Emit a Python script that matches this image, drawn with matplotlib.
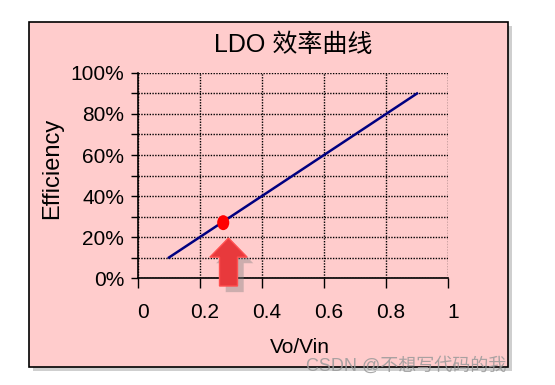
import matplotlib.pyplot as plt
import matplotlib.patches as patches
from matplotlib.transforms import ScaledTranslation
from matplotlib.ticker import PercentFormatter

plt.rcParams['font.family'] = ['Liberation Sans', 'Noto Sans CJK SC', 'DejaVu Sans']

# data
vo_vin = [0.1, 0.2, 0.3, 0.4, 0.5, 0.6, 0.7, 0.8, 0.9]
efficiency = [0.1, 0.2, 0.3, 0.4, 0.5, 0.6, 0.7, 0.8, 0.9]
point_x = 0.275
point_y = 0.27
x_ticks = [0, 0.2, 0.4, 0.6, 0.8, 1]
x_tick_labels = ['0', '0.2', '0.4', '0.6', '0.8', '1']

fig = plt.figure(figsize=(5.55, 3.85), dpi=100)
fig.patch.set_facecolor('white')

# pink chart area with shadow
shadow = patches.Rectangle((0.0523 + 0.0065, 0.0468 - 0.0095), 0.863, 0.896,
                           transform=fig.transFigure, facecolor='#b0b0b0',
                           edgecolor='none', alpha=0.6, zorder=-2)
box = patches.Rectangle((0.0523, 0.0468), 0.863, 0.896, transform=fig.transFigure,
                        facecolor='#ffcccc', edgecolor='black', linewidth=1.2, zorder=-1)
fig.patches.extend([shadow, box])

ax = fig.add_axes([0.2486, 0.2779, 0.5586, 0.5325])
ax.set_facecolor('none')
ax.set_xlim(0, 1)
ax.set_ylim(0, 1)

ax.plot(vo_vin, efficiency, color='#000080', linewidth=1.8, zorder=3)

# highlighted point
ax.add_patch(patches.Ellipse((point_x, point_y), 0.039, 0.073, facecolor='#ff0000',
                             edgecolor='none', zorder=4))

# block arrow pointing up at the point
ax_tip = point_x + 0.017
ay_tip = 0.195
hw, sw = 0.06, 0.029
hb, bot = 0.102, -0.039
arrow_pts = [(ax_tip, ay_tip), (ax_tip + hw, hb), (ax_tip + sw, hb), (ax_tip + sw, bot),
             (ax_tip - sw, bot), (ax_tip - sw, hb), (ax_tip - hw, hb)]
shadow_pts = [(x + 0.02, y - 0.03) for x, y in arrow_pts]
ax.add_patch(patches.Polygon(shadow_pts, closed=True, facecolor='#808080', alpha=0.4,
                             edgecolor='none', clip_on=False, zorder=4))
ax.add_patch(patches.Polygon(arrow_pts, closed=True, facecolor='#e8393c',
                             edgecolor='#ff5050', linewidth=1, clip_on=False, zorder=5))

# ticks and grid
ax.set_yticks([i / 10 for i in range(11)])
ax.yaxis.set_major_formatter(PercentFormatter(1.0, decimals=0))
ax.set_xticks(x_ticks)
ax.set_xticklabels(x_tick_labels)
ax.tick_params(axis='y', direction='out', length=5, width=1, labelsize=15, pad=5)
ax.tick_params(axis='x', direction='out', length=7, width=1, labelsize=15, pad=11)
fig.canvas.draw()
for lbl in ax.get_yticklabels():
    if round(lbl.get_position()[1] * 100) % 20:
        lbl.set_visible(False)
offset = ScaledTranslation(5 / 100, 0, fig.dpi_scale_trans)
for lbl in ax.get_xticklabels():
    lbl.set_transform(lbl.get_transform() + offset)

ax.grid(True, linestyle=(0, (1, 1)), color='black', linewidth=1.0)
ax.set_axisbelow(True)
for side in ['top', 'right']:
    ax.spines[side].set_visible(False)
for side in ['left', 'bottom']:
    ax.spines[side].set_linewidth(1.2)

ax.set_title('LDO 效率曲线', fontsize=18, pad=15, x=0.5)
ax.set_xlabel('Vo/Vin', fontsize=15, va='center')
ax.set_ylabel('Efficiency', fontsize=17, va='center')
ax.xaxis.set_label_coords(0.523, -0.341)
ax.yaxis.set_label_coords(-0.278, 0.537)

fig.text(0.913, 0.026, 'CSDN @不想写代码的我', ha='right', va='bottom', fontsize=13,
         color='#9a9a9a', alpha=0.85, zorder=10)

fig.savefig('out.png', dpi=100)
